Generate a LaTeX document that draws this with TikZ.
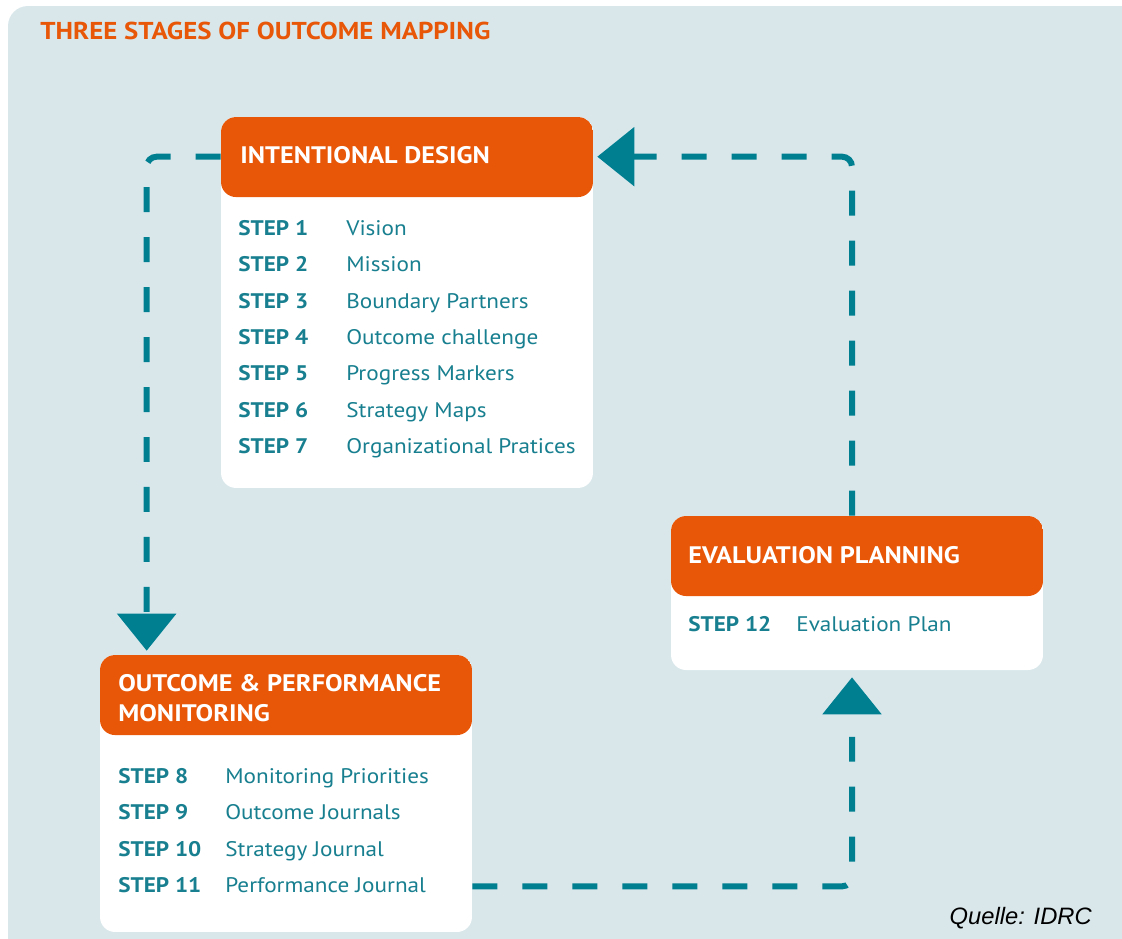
\documentclass[tikz,border=0pt]{standalone}
\usepackage{fontspec}
\setmainfont{PT Sans}[FakeStretch=1.1]
\newfontfamily\sourcefont{Liberation Sans}
\usetikzlibrary{arrows.meta}
\definecolor{omorange}{RGB}{232,87,8}
\definecolor{ombg}{RGB}{217,231,235}
\definecolor{omteal}{RGB}{0,127,145}
\definecolor{omtext}{RGB}{23,127,143}
\tikzstyle{stage} = [rectangle, rounded corners=0.3cm, minimum width=7.44cm, inner sep=0pt, fill=white, path picture={\fill[omorange] (path picture bounding box.north west) rectangle ([yshift=-1.6cm]path picture bounding box.north east);}]
\tikzstyle{header} = [anchor=west, inner sep=0pt, align=left, text=white, font=\fontsize{13.6}{17}\selectfont\bfseries]
\tikzstyle{steps} = [anchor=base west, inner sep=0pt, text=omtext, font=\fontsize{12}{20.7}\selectfont]
\tikzstyle{arrow} = [draw=omteal, line width=0.12cm, dash pattern=on 0.5cm off 0.5cm, rounded corners=0.2cm, -{Triangle[length=0.74cm, width=1.16cm]}]

\begin{document}
\begin{tikzpicture}[x=0.02cm, y=-0.02cm]
        % Background
        \useasboundingbox (0,0) rectangle (1122,938);
        \clip (0,0) rectangle (1122,938);
        \fill [ombg, rounded corners=0.4cm] (8,6) rectangle (1160,980);
        \node (title) [anchor=west, inner sep=0pt, text=omorange, font=\fontsize{13.9}{16}\selectfont\bfseries] at (40,31) {THREE STAGES OF OUTCOME MAPPING};

        % Stages
        \node (design) [stage, minimum height=7.42cm] at (407,302.5) {};
        \node (monitoring) [stage, minimum height=5.54cm] at (286,793.5) {};
        \node (evaluation) [stage, minimum height=3.08cm] at (857,593) {};

        \node (designtitle) [header] at (240,155) {INTENTIONAL DESIGN};
        \node (monitoringtitle) [header] at (118,698) {OUTCOME \& PERFORMANCE\\MONITORING};
        \node (evaluationtitle) [header] at (688,555) {EVALUATION PLANNING};

        % Steps
        \node (designsteps) [steps] at (238,235.5) {\begin{tabular}[t]{@{}p{2.16cm}@{}l@{}}
            \textbf{STEP 1} & Vision\\
            \textbf{STEP 2} & Mission\\
            \textbf{STEP 3} & Boundary Partners\\
            \textbf{STEP 4} & Outcome challenge\\
            \textbf{STEP 5} & Progress Markers\\
            \textbf{STEP 6} & Strategy Maps\\
            \textbf{STEP 7} & Organizational Pratices
        \end{tabular}};
        \node (monitoringsteps) [steps] at (118,783.5) {\begin{tabular}[t]{@{}p{2.14cm}@{}l@{}}
            \textbf{STEP 8} & Monitoring Priorities\\
            \textbf{STEP 9} & Outcome Journals\\
            \textbf{STEP 10} & Strategy Journal\\
            \textbf{STEP 11} & Performance Journal
        \end{tabular}};
        \node (evaluationsteps) [steps] at (688,631.5) {\begin{tabular}[t]{@{}p{2.16cm}@{}l@{}}
            \textbf{STEP 12} & Evaluation Plan
        \end{tabular}};

        \node (source) [anchor=east, inner sep=0pt, font=\sourcefont\itshape\fontsize{13.5}{16}\selectfont] at (1092,918) {Quelle: IDRC};

        % Arrows
        \draw [arrow] ([yshift=-0.8cm]design.north west) -| ([xshift=0.94cm, yshift=0.08cm]monitoring.north west);
        \draw [arrow] ([yshift=0.92cm]monitoring.south east) -| ([xshift=-0.1cm, yshift=-0.14cm]evaluation.south);
        \draw [arrow] ([xshift=-0.1cm]evaluation.north) |- ([xshift=0.08cm, yshift=-0.8cm]design.north east);
\end{tikzpicture}
\end{document}
